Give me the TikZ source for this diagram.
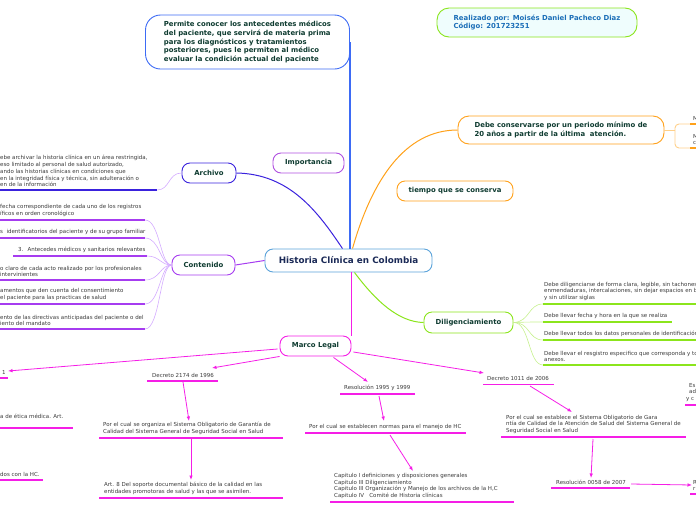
\documentclass[tikz,border=0pt]{standalone}
\usepackage{fontspec}
\setmainfont{DejaVu Sans}
\usetikzlibrary{arrows.meta,calc}
\definecolor{cblue}{HTML}{5BA3DA}
\definecolor{topblue}{HTML}{3D6BF5}
\definecolor{indig}{HTML}{3A22DD}
\definecolor{purp}{HTML}{A63CF0}
\definecolor{purpl}{HTML}{D4ACFF}
\definecolor{impp}{HTML}{B050E0}
\definecolor{orng}{HTML}{FFA11A}
\definecolor{orngl}{HTML}{FFD08A}
\definecolor{grn}{HTML}{8BE51C}
\definecolor{grnl}{HTML}{C6F08E}
\definecolor{mag}{HTML}{F51EE6}
\definecolor{ntext}{HTML}{0E3B30}
\definecolor{navy}{HTML}{1B2A57}
\definecolor{leafgray}{HTML}{3A3A3A}
\definecolor{realblue}{HTML}{1C6FB8}
\definecolor{realfill}{HTML}{EFFDFD}
\newcommand\leaffont{\fontsize{5.5}{6.7}\selectfont}
\newcommand\nodefont{\fontsize{6.9}{8.6}\selectfont\bfseries}
\begin{document}
\begin{tikzpicture}[x=1pt,y=-1pt,
  topic/.style={draw, line width=0.9pt, rounded corners=8pt, fill=white, font=\nodefont, text=ntext, inner sep=2pt, align=left},
  leaf/.style={anchor=south west, inner sep=0pt, align=left, font=\leaffont, text=leafgray},
  uline/.style={line width=1.5pt},
  fan/.style={line width=0.6pt},
  marrow/.style={draw=mag, line width=0.8pt, -{Latex[length=4.5pt,width=3.6pt]}},
  mline/.style={draw=mag, line width=1.6pt}]
\useasboundingbox (0,0) rectangle (696,520);
\clip (0,0) rectangle (696,520);

% ---------- main nodes ----------
\node[topic, draw=cblue, text=navy, font=\fontsize{8.8}{10}\selectfont\bfseries, minimum width=167pt, minimum height=23pt] (c) at (348.5,260.5) {Historia Clínica en Colombia};
\node[topic, draw=topblue, rounded corners=15pt, minimum width=204pt, minimum height=54pt] (top) at (247.5,42) {Permite conocer los antecedentes médicos\\del paciente, que servirá de materia prima\\para los diagnósticos y tratamientos\\posteriores, pues le permiten al médico\\evaluar la condición actual del paciente};
\node[topic, draw=grn, fill=realfill, text=realblue, rounded corners=12pt, minimum width=200pt, minimum height=29pt] (real) at (537,22.5) {Realizado por: Moisés Daniel Pacheco Diaz\\Código: 201723251};
\node[topic, draw=impp, minimum width=71pt, minimum height=20pt] (imp) at (308.5,163) {Importancia};
\node[topic, draw=indig, minimum width=54pt, minimum height=20pt] (arch) at (209,173) {Archivo};
\node[topic, draw=purp, minimum width=63pt, minimum height=20pt] (cont) at (203.5,265) {Contenido};
\node[topic, draw=orng, minimum width=206pt, minimum height=28pt, rounded corners=11pt] (dc) at (561,130) {Debe conservarse por un periodo mínimo de\\20 años a partir de la última~ atención.};
\node[topic, draw=orng, minimum width=116pt, minimum height=20pt] (tq) at (455,191) {tiempo que se conserva};
\node[topic, draw=grn, minimum width=89pt, minimum height=21pt] (dil) at (468.5,322.5) {Diligenciamiento};
\node[topic, draw=mag, minimum width=71pt, minimum height=20pt] (ml) at (315.5,346) {Marco Legal};

% ---------- main connectors ----------
\draw[topblue, line width=1.3pt] (top.east) -- (top.east |- c.north);
\draw[indig, line width=1pt] (arch.east) .. controls (290,174) and (318,212) .. ($(c.north)+(-6,0)$);
\draw[orng, line width=1pt] ($(c.north)+(4,0)$) .. controls (372,180) and (405,130) .. (dc.west);
\draw[grn, line width=1pt] ($(c.south)+(6,0)$) .. controls (375,300) and (398,322) .. (dil.west);
\draw[purp, line width=1pt] (c.west) -- (cont.east);
\draw[mag, line width=1pt] (ml.east |- c.south) -- (ml.north east);

% ---------- Archivo leaf ----------
\coordinate (a0) at (0,190); \coordinate (a1) at (157,190);
\draw[purpl, fan] (arch.west) .. controls (168,173) and (170,190) .. (a1);
\draw[indig, uline] (a0) -- (a1);
\node[leaf] (at) at (0,187) {ebe archivar la historia clínica en un área restringida,\\eso limitado al personal de salud autorizado,\\ando las historias clínicas en condiciones que\\en la integridad física y técnica, sin adulteración o\\en de la información};

% ---------- Contenido leaves ----------
\foreach \y/\xs/\xe in {220/0/145, 238/0/145, 256/13/147, 280/0/145, 304/0/145, 329/0/145}{
  \draw[purpl, fan] (cont.west) .. controls (160,265) and (160,\y) .. (\xe,\y);
  \draw[purp, uline] (\xs,\y) -- (\xe,\y);
}
\node[leaf] (c1) at (0,217) {fecha correspondiente de cada uno de los registros\\íficos en orden cronológico};
\node[leaf] (c2) at (0,235) {s~ identificatorios del paciente y de su grupo familiar};
\node[leaf] (c3) at (18,253) {3.~ Antecedes médicos y sanitarios relevantes};
\node[leaf] (c4) at (0,277) {o claro de cada acto realizado por los profesionales\\intervinientes};
\node[leaf] (c5) at (0,301) {amentos que den cuenta del consentimiento\\el paciente para las practicas de salud};
\node[leaf] (c6) at (0,326) {ento de las directivas anticipadas del paciente o del\\iento del mandato};

% ---------- conservarse leaves ----------
\coordinate (o0) at (675,130);
\draw[orngl, line width=0.9pt] (dc.east) -- (o0);
\draw[orngl, line width=0.9pt, rounded corners=4pt] (o0) -- (675,124) -- (690,124);
\draw[orngl, line width=0.9pt, rounded corners=4pt] (o0) -- (675,148) -- (690,148);
\draw[orng, uline] (690,124) -- (696,124);
\draw[orng, uline] (690,148) -- (696,148);
\node[leaf] at (693,121) {M};
\node[leaf] at (693,145) {M\\c};

% ---------- Diligenciamiento leaves ----------
\foreach \y/\xe in {304/696, 322/672, 340/696, 365/696}{
  \draw[grnl, fan] (dil.east) .. controls (530,322) and (528,\y) .. (543,\y);
  \draw[grn, uline] (543,\y) -- (\xe,\y);
}
\node[leaf] (g1) at (544,301) {Debe diligenciarse de forma clara, legible, sin tachones\\enmendaduras, intercalaciones, sin dejar espacios en b\\y sin utilizar siglas};
\node[leaf] (g2) at (544,319) {Debe llevar fecha y hora en la que se realiza};
\node[leaf] (g3) at (544,337) {Debe llevar todos los datos personales de identificación};
\node[leaf] (g4) at (544,362) {Debe llevar el resgistro especifico que corresponda y to\\anexos.};

% ---------- Marco Legal ----------
\coordinate (e1) at (8,371);
\coordinate (e2) at (212,368);
\coordinate (e3) at (368,382);
\coordinate (e4) at (484,373);
\draw[marrow] ($(ml.west)+(-2,3)$) -- (e1);
\draw[marrow] (ml.south west) -- (e2);
\draw[marrow] ($(ml.south)+(18,1)$) -- (e3);
\draw[marrow] ($(ml.east)+(2,6)$) -- (e4);

% far left
\draw[mline] (0,378) -- (8,378);
\node[leaf] at (2,375) {1};
\draw[mline] (0,428) -- (73,428);
\node[leaf] at (0,419) {a de ética médica. Art.};
\draw[mline] (0,480) -- (43,480);
\node[leaf] at (0,477) {dos con la HC.};

% Decreto 2174
\draw[mline] (147,381) -- (218,381);
\node[leaf] (d2174) at (152,378) {Decreto 2174 de 1996};
\coordinate (f1) at (189,421);
\draw[marrow] (183,382) -- (f1);
\draw[mline] (99,438) -- (283,438);
\node[leaf] (p2174) at (103,435) {Por el cual se organiza el Sistema Obligatorio de Garantía de\\Calidad del Sistema General de Seguridad Social en Salud};
\coordinate (f2) at (191,480);
\draw[marrow] (191,439) -- (f2);
\draw[mline] (99,498) -- (283,498);
\node[leaf] (art8) at (104,495) {Art. 8 Del soporte documental básico de la calidad en las\\entidades promotoras de salud y las que se asimilen.};

% Resolucion 1995
\draw[mline] (340,394) -- (415,394);
\node[leaf] (r1995) at (344,391) {Resolución 1995 y 1999};
\coordinate (h1) at (384,421);
\draw[marrow] (379,396) -- (h1);
\draw[mline] (305,433) -- (466,433);
\node[leaf] (p1995) at (309,430) {Por el cual se establecen normas para el manejo de HC};
\coordinate (h2) at (413,471);
\draw[marrow] (390,435) -- (h2);
\draw[mline] (330,502) -- (514,502);
\node[leaf] (cap) at (334,499) {Capitulo I definiciones y disposiciones generales\\Capitulo III Diligenciamiento\\Capitulo III Organización y Manejo de los archivos de la H,C\\Capitulo IV~~ Comité de Historia clínicas};

% Decreto 1011
\draw[mline] (483,384.5) -- (554,384.5);
\node[leaf] (d1011) at (487,381) {Decreto 1011 de 2006};
\coordinate (k1) at (572,412);
\draw[marrow] (530,386) -- (k1);
\draw[mline] (501,437) -- (686,437);
\node[leaf] (p1011) at (506,434) {Por el cual se establece el Sistema Obligatorio de Gara\\ntía de Calidad de la Atención de Salud del Sistema General de\\Seguridad Social en Salud};
\coordinate (k2) at (591,478);
\draw[marrow] (593,439) -- (k2);
\draw[mline] (551,488) -- (630,488);
\node[leaf] (r0058) at (556,485) {Resolución 0058 de 2007};
\coordinate (k3) at (692,485);
\draw[marrow] (631,484) -- (k3);
\draw[mline] (690,494) -- (696,494);
\node[leaf] at (693,491) {R\\r};
\draw[mline] (685,405) -- (696,405);
\node[leaf] at (686,402) {\hspace{3pt}Es\\\hspace{3pt}ad\\y c};
\end{tikzpicture}
\end{document}
